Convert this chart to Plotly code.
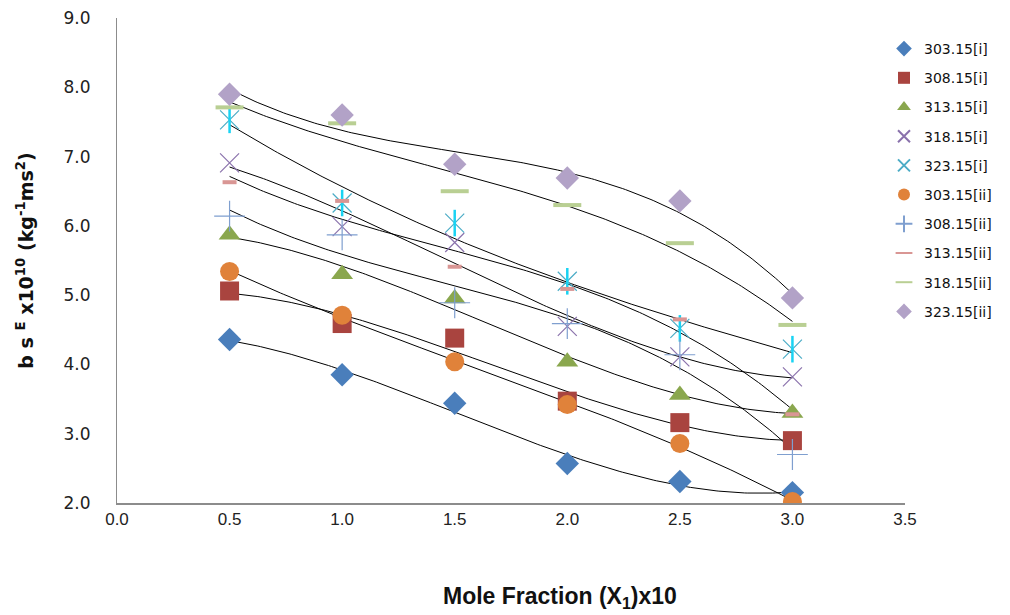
import numpy as np
import plotly.graph_objects as go

x_vals = [0.5, 1.0, 1.5, 2.0, 2.5, 3.0]

names = ["303.15[i]", "308.15[i]", "313.15[i]", "318.15[i]", "323.15[i]",
         "303.15[ii]", "308.15[ii]", "313.15[ii]", "318.15[ii]", "323.15[ii]"]

s303_i = [4.36, 3.85, 3.44, 2.57, 2.31, 2.15]
s308_i = [5.06, 4.59, 4.38, 3.47, 3.16, 2.90]
s313_i = [5.87, 5.30, 4.95, 4.04, 3.56, 3.30]
s318_i = [6.91, 5.99, 5.76, 4.55, 4.11, 3.82]
s323_i = [7.53, 6.33, 6.04, 5.20, 4.52, 4.22]
s303_ii = [5.34, 4.71, 4.04, 3.42, 2.86, 2.02]
s308_ii = [6.14, 5.87, 4.89, 4.59, 4.14, 2.70]
s313_ii = [6.63, 6.36, 5.41, 5.09, 4.65, 3.28]
s318_ii = [7.71, 7.48, 6.50, 6.30, 5.75, 4.57]
s323_ii = [7.90, 7.60, 6.89, 6.69, 6.36, 4.96]

series = [s303_i, s308_i, s313_i, s318_i, s323_i,
          s303_ii, s308_ii, s313_ii, s318_ii, s323_ii]

colors = ["#4a7ebb", "#a9443f", "#8aa74e", "#8a72ac", "#4bacc6",
          "#e0823a", "#7f9fcf", "#d99694", "#b9cf93", "#b2a2c7"]
symbols = ["diamond", "square", "triangle-up", "x-thin-open", "x-thin-open",
           "circle", "cross-thin-open", "line-ew-open", "line-ew-open", "diamond"]
sizes = [18, 19, 19, 19, 19, 19, 22, 10, 20, 18]

fig = go.Figure()

# polynomial (order 3) trendlines
xf = np.linspace(0.5, 3.0, 200)
for ys in series:
    c = np.polyfit(x_vals, ys, 3)
    fig.add_trace(go.Scatter(x=xf, y=np.polyval(c, xf), mode="lines",
                             line=dict(color="black", width=1),
                             showlegend=False, hoverinfo="skip"))

for i, (nm, ys) in enumerate(zip(names, series)):
    open_sym = symbols[i].endswith("open")
    mk = dict(symbol=symbols[i], size=sizes[i], color=colors[i])
    if open_sym:
        mk["line"] = dict(color=colors[i], width=4 if "line-ew" in symbols[i] else 1.2)
    fig.add_trace(go.Scatter(x=x_vals, y=ys, mode="markers", name=nm,
                             legendgroup=nm, marker=mk))
    if i == 4:
        # vertical bar of the asterisk marker
        fig.add_trace(go.Scatter(x=x_vals, y=ys, mode="markers", showlegend=False,
                                 legendgroup=nm,
                                 marker=dict(symbol="line-ns-open", size=19,
                                             line=dict(color=colors[i], width=2.5))))

# page body adds an 8px offset
L, T, B = 109, 10, 120
plot_w = 1010 - L
plot_h = 615 - T - B
off = 8

fig.update_layout(
    width=1010, height=615,
    paper_bgcolor="white", plot_bgcolor="white",
    margin=dict(l=L, r=0, t=T, b=B),
    font=dict(family="DejaVu Sans", color="#222"),
    legend=dict(x=(884 - off - L) / plot_w, y=1 - 15 / plot_h, xanchor="left", yanchor="top",
                font=dict(family="DejaVu Sans", size=14, color="#111"),
                tracegroupgap=8, itemsizing="constant", itemwidth=30,
                bgcolor="rgba(0,0,0,0)"),
    xaxis=dict(domain=[0, 788 / plot_w], automargin=False,
               range=[0, 3.5], tickvals=[0, 0.5, 1, 1.5, 2, 2.5, 3, 3.5],
               ticktext=["0.0", "0.5", "1.0", "1.5", "2.0", "2.5", "3.0", "3.5"],
               showgrid=False, zeroline=False, showline=True, linecolor="#8c8c8c",
               linewidth=2, ticks="", ticklabelstandoff=0, ticklabeloverflow="allow",
               tickfont=dict(family="Liberation Sans", size=17, color="#222")),
    yaxis=dict(automargin=False,
               range=[2, 9], tickvals=[2, 3, 4, 5, 6, 7, 8, 9],
               ticktext=["2.0", "3.0", "4.0", "5.0", "6.0", "7.0", "8.0", "9.0"],
               showgrid=False, zeroline=False, showline=True, linecolor="#8c8c8c",
               linewidth=1, ticks="", ticklabelstandoff=22, ticklabeloverflow="allow",
               tickfont=dict(family="DejaVu Sans", size=17, color="#222"),
               title=dict(text="<b>b s <sup>E</sup> x10<sup>10</sup> (kg<sup>-1</sup>ms<sup>2</sup>)</b>",
                          font=dict(family="DejaVu Sans", size=19, color="#111"),
                          standoff=24)),
    annotations=[dict(text="<b>Mole Fraction (X<sub>1</sub>)x10</b>",
                      xref="paper", yref="paper",
                      x=(560 - off - L) / plot_w, y=-(597 - off - T - plot_h) / plot_h,
                      xanchor="center", yanchor="middle", showarrow=False,
                      font=dict(family="Liberation Sans", size=23, color="#111"))],
)

fig.write_html("out.html")
